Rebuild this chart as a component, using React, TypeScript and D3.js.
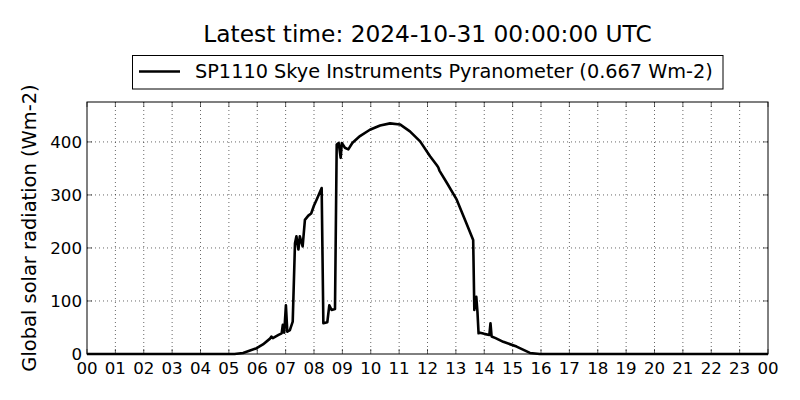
import React from "react";
import * as d3 from "d3";

const title = "Latest time: 2024-10-31 00:00:00 UTC";
const legendLabel = "SP1110 Skye Instruments Pyranometer (0.667 Wm-2)";
const yLabel = "Global solar radiation (Wm-2)";
const xTickLabels = ["00","01","02","03","04","05","06","07","08","09","10","11","12","13","14","15","16","17","18","19","20","21","22","23","00"];
const yTicks = [0, 100, 200, 300, 400];

const hours = [0, 5.2, 5.5, 5.98, 6.2, 6.45, 6.5, 6.55, 6.75, 6.86, 6.9, 6.95, 7.01, 7.06, 7.15, 7.25, 7.33, 7.38, 7.45, 7.5, 7.6, 7.68, 7.8, 7.9, 8.0, 8.1, 8.27, 8.33, 8.47, 8.54, 8.62, 8.74, 8.8, 8.87, 8.94, 8.98, 9.09, 9.21, 9.35, 9.62, 9.97, 10.33, 10.68, 11.03, 11.38, 11.74, 12.09, 12.33, 12.38, 12.42, 12.68, 13.03, 13.32, 13.61, 13.65, 13.72, 13.76, 13.8, 13.85, 14.0, 14.18, 14.22, 14.26, 14.4, 14.67, 15.14, 15.61, 15.96, 24];
const radiation = [0, 0, 2, 11, 18, 29, 33, 30, 36, 39, 55, 40, 92, 42, 45, 61, 209, 222, 197, 222, 203, 253, 261, 265, 280, 292, 313, 58, 60, 92, 83, 85, 395, 398, 370, 398, 389, 386, 398, 411, 423, 431, 435, 433, 420, 401, 373, 356, 352, 346, 323, 291, 253, 215, 83, 108, 80, 39, 40, 38, 36, 58, 33, 30, 23, 14, 2, 0, 0];

const W = 800, H = 400;
const margin = { left: 87, right: 768, top: 102, bottom: 354 };

export default function App() {
  const x = d3.scaleLinear().domain([0, 24]).range([margin.left, margin.right]);
  const y = d3.scaleLinear().domain([0, 475.3]).range([margin.bottom, margin.top]);
  const line = d3.line<number>().x((_, i) => x(hours[i])).y((d) => y(d));
  const path = line(radiation) || "";
  const font = "DejaVu Sans, sans-serif";
  const tickLen = 5;
  const xt = d3.range(0, 25);
  return (
    <svg width={W} height={H} style={{ position: "absolute", left: 0, top: 0, background: "#fff" }}>
      <rect x={0} y={0} width={W} height={H} fill="#fff" />
      {/* grid */}
      {xt.slice(1, 24).map((h) => (
        <line key={"gx" + h} x1={x(h)} x2={x(h)} y1={margin.top} y2={margin.bottom} stroke="#000" strokeWidth={0.6} strokeDasharray="1,3" />
      ))}
      {yTicks.slice(1).map((v) => (
        <line key={"gy" + v} x1={margin.left} x2={margin.right} y1={y(v)} y2={y(v)} stroke="#000" strokeWidth={0.6} strokeDasharray="1,3" />
      ))}
      {/* ticks */}
      {xt.map((h) => (
        <g key={"tx" + h}>
          <line x1={x(h)} x2={x(h)} y1={margin.bottom} y2={margin.bottom - tickLen} stroke="#000" strokeWidth={0.6} />
          <line x1={x(h)} x2={x(h)} y1={margin.top} y2={margin.top + tickLen} stroke="#000" strokeWidth={0.6} />
          <text x={x(h)} y={margin.bottom + 20} textAnchor="middle" fontFamily={font} fontSize={16.67} fill="#000">{xTickLabels[h]}</text>
        </g>
      ))}
      {yTicks.map((v) => (
        <g key={"ty" + v}>
          <line x1={margin.left} x2={margin.left + tickLen} y1={y(v)} y2={y(v)} stroke="#000" strokeWidth={0.6} />
          <line x1={margin.right} x2={margin.right - tickLen} y1={y(v)} y2={y(v)} stroke="#000" strokeWidth={0.6} />
          <text x={margin.left - 5} y={y(v)} dy="0.36em" textAnchor="end" fontFamily={font} fontSize={16.67} fill="#000">{v}</text>
        </g>
      ))}
      {/* data */}
      <path d={path} fill="none" stroke="#000" strokeWidth={2.6} strokeLinejoin="round" />
      {/* frame */}
      <rect x={margin.left} y={margin.top} width={margin.right - margin.left} height={margin.bottom - margin.top} fill="none" stroke="#000" strokeWidth={1} />
      {/* title */}
      <text x={(margin.left + margin.right) / 2} y={42} textAnchor="middle" fontFamily={font} fontSize={23.3} fill="#000">{title}</text>
      {/* legend */}
      <rect x={132.5} y={55.5} width={590.5} height={33.5} fill="#fff" stroke="#000" strokeWidth={1} />
      <line x1={139} x2={180} y1={71.5} y2={71.5} stroke="#000" strokeWidth={2.6} />
      <text x={195} y={78} fontFamily={font} fontSize={19.3} fill="#000">{legendLabel}</text>
      {/* y label */}
      <text transform={`translate(36, ${(margin.top + margin.bottom) / 2}) rotate(-90)`} textAnchor="middle" fontFamily={font} fontSize={19.44} fill="#000">{yLabel}</text>
    </svg>
  );
}
